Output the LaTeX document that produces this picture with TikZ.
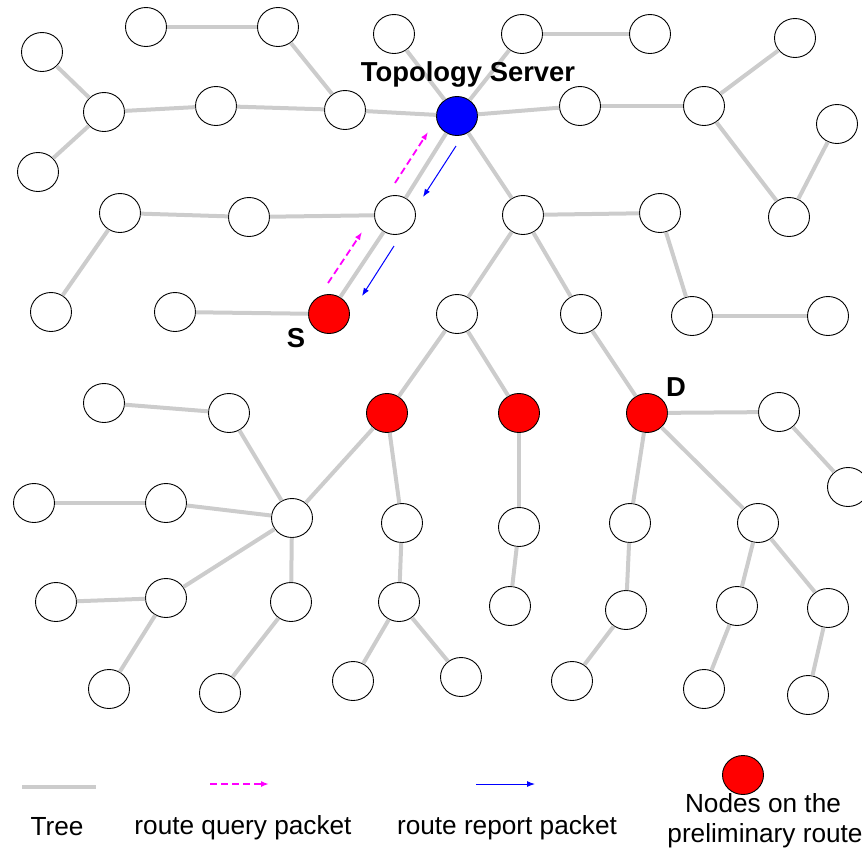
\documentclass[tikz,border=0pt]{standalone}
\usepackage{fontspec}
\setmainfont{Liberation Sans}
\usetikzlibrary{shapes.geometric,arrows.meta}
\definecolor{treegray}{HTML}{CCCCCC}
\definecolor{qmag}{HTML}{FF00FF}
\definecolor{rblue}{HTML}{0000FF}
\tikzset{
  nd/.style={ellipse,draw=black,line width=0.9pt,fill=white,minimum width=41pt,minimum height=39pt,inner sep=0pt},
  rednd/.style={nd,fill=red},
  bluend/.style={nd,fill=rblue},
  treeedge/.style={draw=treegray,line width=4pt},
  querypk/.style={draw=qmag,line width=1.8pt,dash pattern=on 7pt off 4pt,-{Latex[length=8pt,width=6pt]}},
  reportpk/.style={draw=rblue,line width=1pt,-{Latex[length=8pt,width=6pt]}},
  lbl/.style={font=\bfseries\fontsize{27.4}{31}\selectfont},
  legtxt/.style={font=\fontsize{26.2}{30}\selectfont,anchor=base}
}
\begin{document}
\begin{tikzpicture}[x=1pt,y=-1pt]
\useasboundingbox (0,0) rectangle (862,849);
% nodes
\foreach \n/\x/\y in {a1/146/27,a2/278/27,a3/394/34,a4/42/52,a5/104/112,a6/216/106,a7/345/110,a8/38/172,
 b1/120/213,b2/249/217,b3/395/215,b4/51/312,b5/175/312,
 c1/522/34,c2/650/34,c3/795/38,c4/580/106,c5/704/106,c6/837/124,
 d1/523/215,d2/660/213,d3/789/217,e1/457/314,e2/581/314,e3/692/316,e4/828/316,
 f1/104/403,f2/229/413,f3/779/412,f4/848/487,
 g1/34/503,g2/166/503,g3/292/518,g4/402/523,g5/519/527,g6/630/523,g7/758/523,
 h1/56/602,h2/166/598,h3/291/602,h4/399/602,h5/510/606,h6/626/610,h7/737/606,h8/828/608,
 i1/109/689,i2/220/693,i3/353/681,i4/461/677,i5/572/681,i6/704/689,i7/808/695}
  \node[nd] (\n) at (\x,\y) {};
\node[rednd] (S) at (329,314) {};
\node[bluend] (T) at (457,116) {};
\node[rednd] (R1) at (387,413) {};
\node[rednd] (R2) at (519,413) {};
\node[rednd] (D) at (647,413) {};
% tree edges
\foreach \u/\v in {a1/a2,a2/a7,a4/a5,a5/a6,a6/a7,a5/a8,a7/T,a3/T,
 b1/b2,b2/b3,b1/b4,b5/S,S/b3,b3/T,
 c1/c2,c1/T,T/c4,c4/c5,c5/c3,c5/d3,d3/c6,
 T/d1,d1/d2,d2/e3,e3/e4,d1/e1,d1/e2,e1/R1,e1/R2,e2/D,
 f1/f2,f2/g3,R1/g3,g1/g2,g2/g3,g3/h2,h1/h2,h2/i1,g3/h3,h3/i2,
 R1/g4,g4/h4,h4/i3,h4/i4,R2/g5,g5/h5,
 D/f3,f3/f4,D/g6,g6/h6,h6/i5,D/g7,g7/h7,h7/i6,g7/h8,h8/i7}
  \draw[treeedge] (\u) -- (\v);
% packets
\coordinate (q1s) at (328,283); \coordinate (q1e) at (362,232);
\coordinate (q2s) at (395,183); \coordinate (q2e) at (428,132);
\coordinate (r1s) at (456,146); \coordinate (r1e) at (423,197);
\coordinate (r2s) at (394,246); \coordinate (r2e) at (362,296);
\draw[querypk] (q1s) -- (q1e);
\draw[querypk] (q2s) -- (q2e);
\draw[reportpk] (r1s) -- (r1e);
\draw[reportpk] (r2s) -- (r2e);
% labels
\node[lbl,anchor=base] (tsl) at (468,81) {Topology Server};
\node[lbl,anchor=base] (sl) at (296,347) {S};
\node[lbl,anchor=base] (dl) at (676,396) {D};
% legend
\coordinate (lt1) at (22,787); \coordinate (lt2) at (96,787);
\draw[treeedge] (lt1) -- (lt2);
\node[legtxt] (ltree) at (57,835) {Tree};
\coordinate (lq1) at (210,784); \coordinate (lq2) at (269,784);
\draw[querypk] (lq1) -- (lq2);
\node[legtxt] (lquery) at (243,834) {route query packet};
\coordinate (lr1) at (476,784); \coordinate (lr2) at (535,784);
\draw[reportpk] (lr1) -- (lr2);
\node[legtxt] (lreport) at (507,834) {route report packet};
\node[rednd] (lred) at (743,775) {};
\node[legtxt] (lnodes1) at (763,812) {Nodes on the};
\node[legtxt] (lnodes2) at (765,842) {preliminary route};
\end{tikzpicture}
\end{document}
